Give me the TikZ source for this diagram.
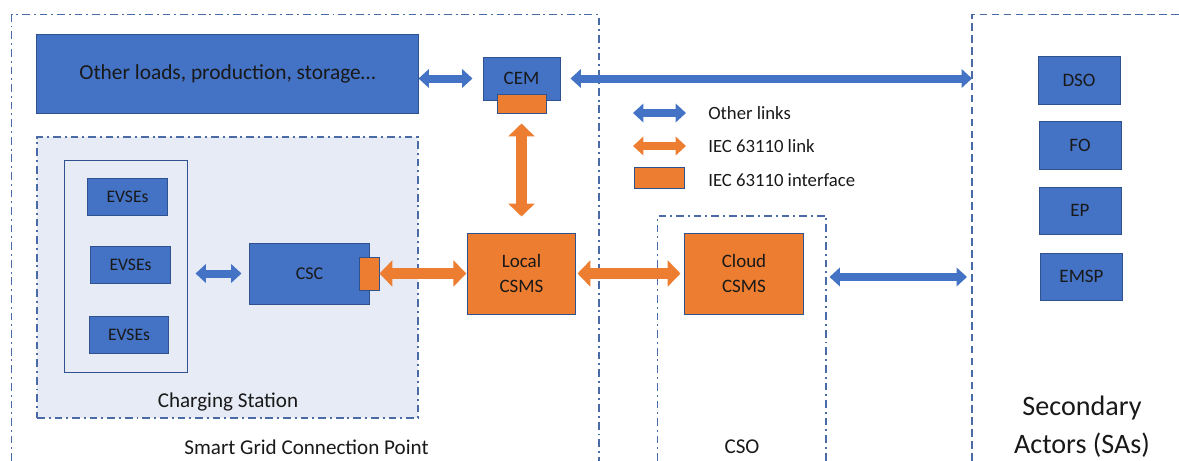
\documentclass[tikz,border=0pt]{standalone}
\usepackage{fontspec}
\setmainfont{Carlito}
\usetikzlibrary{arrows.meta}

\definecolor{boxblue}{HTML}{4472C4}
\definecolor{boxorange}{HTML}{ED7D31}
\definecolor{boxline}{HTML}{2F528F}
\definecolor{stationfill}{HTML}{E6EBF5}
\definecolor{frameline}{HTML}{4A6BA6}

\tikzset{
  block/.style={draw=boxline, line width=0.7pt, fill=boxblue, inner sep=0pt,
    text=black!90, align=center, font=\fontsize{13.5}{17.7}\selectfont},
  ocppblock/.style={block, fill=boxorange},
  iface/.style={draw=boxline, line width=0.7pt, fill=boxorange, inner sep=0pt},
  otherlink/.style={draw=boxblue, line width=0.2cm,
    >={Triangle[width=0.46cm,length=0.26cm]}, <->},
  ieclink/.style={draw=boxorange, line width=0.26cm,
    >={Triangle[width=0.64cm,length=0.32cm]}, <->},
  keyorange/.style={otherlink, draw=boxorange},
  zoneframe/.style={draw=frameline, line width=1.2pt,
    dash pattern=on 5.5pt off 2.8pt on 1.4pt off 2.8pt},
  saframe/.style={draw=frameline, line width=1.2pt, dash pattern=on 5.5pt off 3pt},
  zonelabel/.style={inner sep=0pt, text=black!90, font=\fontsize{15}{18}\selectfont},
  keytext/.style={inner sep=0pt, anchor=west, text=black!90,
    font=\fontsize{13.3}{16}\selectfont},
}

\begin{document}
\begin{tikzpicture}[x=0.025cm, y=-0.025cm]
  \useasboundingbox (0,0) rectangle (1179,461);

  % zones, open at the bottom
  \draw[zoneframe] (11.5,461) -- (11.5,14.5) -- (599,14.5) -- (599,461);
  \draw[zoneframe] (657.5,461) -- (657.5,216) -- (826,216) -- (826,461);
  \draw[saframe] (972,461) -- (972,14.5) -- (1179,14.5);
  \coordinate (saedge) at (972,78.5);
  \coordinate (saedge2) at (967,277);

  % smart grid connection point
  \node[block, minimum width=9.525cm, minimum height=1.95cm,
    font=\fontsize{15.2}{18}\selectfont] (others) at (227.5,74)
    {Other loads, production, storage\ldots};
  \node[block, minimum width=1.925cm, minimum height=1.075cm] (cem) at (521.5,78.5) {CEM};
  \node[iface, minimum width=1.225cm, minimum height=0.475cm] (cemif) at (521.5,103.5) {};

  \node[zoneframe, fill=stationfill, minimum width=9.525cm, minimum height=7.025cm]
    (station) at (227.5,277.5) {};
  \node[zonelabel] (stationlbl) at (228,402) {Charging Station};
  \node[draw=boxline, line width=0.7pt, fill=stationfill, minimum width=3.05cm,
    minimum height=5.275cm] (evsegroup) at (126,266.5) {};
  \node[block, minimum width=1.975cm, minimum height=0.925cm,
    font=\fontsize{12.5}{15}\selectfont] (evse1) at (127.5,196.5) {EVSEs};
  \node[block, minimum width=1.975cm, minimum height=0.925cm,
    font=\fontsize{12.5}{15}\selectfont] (evse2) at (130.5,265) {EVSEs};
  \node[block, minimum width=1.975cm, minimum height=0.925cm,
    font=\fontsize{12.5}{15}\selectfont] (evse3) at (129,334.5) {EVSEs};
  \node[block, minimum width=2.975cm, minimum height=1.525cm,
    font=\fontsize{12.8}{15}\selectfont] (csc) at (309.5,273.5) {CSC};
  \node[iface, minimum width=0.5cm, minimum height=0.825cm] (cscif) at (369,273.5) {};

  \node[ocppblock, minimum width=2.675cm, minimum height=2.025cm] (local)
    at (521.5,273.5) {Local\\CSMS};
  \node[zonelabel] (sgcplbl) at (306.5,447) {Smart Grid Connection Point};

  % charging station operator
  \node[ocppblock, minimum width=2.95cm, minimum height=2.025cm] (cloud)
    at (744,273.5) {Cloud\\CSMS};
  \node[zonelabel] (csolbl) at (742,447) {CSO};

  % secondary actors
  \node[block, minimum width=2.05cm, minimum height=1.2cm] (dso) at (1079,80) {DSO};
  \node[block, minimum width=2.05cm, minimum height=1.2cm] (fo) at (1080,145) {FO};
  \node[block, minimum width=2.05cm, minimum height=1.175cm] (ep) at (1080,210.5) {EP};
  \node[block, minimum width=2.05cm, minimum height=1.175cm] (emsp) at (1081.5,276.5) {EMSP};
  \node[zonelabel, align=center, font=\fontsize{20}{27}\selectfont] (salbl)
    at (1082,427) {Secondary\\Actors (SAs)};

  % links
  \draw[otherlink, shorten >=0.25cm] (cem.west -| others.east) -- (cem.west);
  \draw[otherlink, shorten <=0.25cm] (cem.east) -- (saedge);
  \draw[ieclink, shorten <=0.25cm, shorten >=0.4cm] (cemif.south) -- (local.north);
  \draw[otherlink, shorten <=0.2cm, shorten >=0.2cm] (csc.west -| evsegroup.east) -- (csc.west);
  \draw[ieclink, shorten >=0.03cm] (cscif.east) -- (local.west);
  \draw[ieclink, shorten <=0.05cm, shorten >=0.1cm] (local.east) -- (cloud.west);
  \draw[otherlink, shorten <=0.65cm] (cloud.east |- saedge2) -- (saedge2);

  % key
  \coordinate (keyblueL) at (633,113);
  \coordinate (keyblueR) at (686,113);
  \coordinate (keyorangeL) at (633,146);
  \coordinate (keyorangeR) at (686,146);
  \draw[otherlink] (keyblueL) -- (keyblueR);
  \draw[keyorange] (keyorangeL) -- (keyorangeR);
  \node[iface, minimum width=1.25cm, minimum height=0.525cm] (keyiface) at (659,178) {};
  \node[keytext] (keyblue) at (708,113) {Other links};
  \node[keytext] (keyorange) at (708,146) {IEC 63110 link};
  \node[keytext] (keyif) at (708,180) {IEC 63110 interface};
\end{tikzpicture}
\end{document}
